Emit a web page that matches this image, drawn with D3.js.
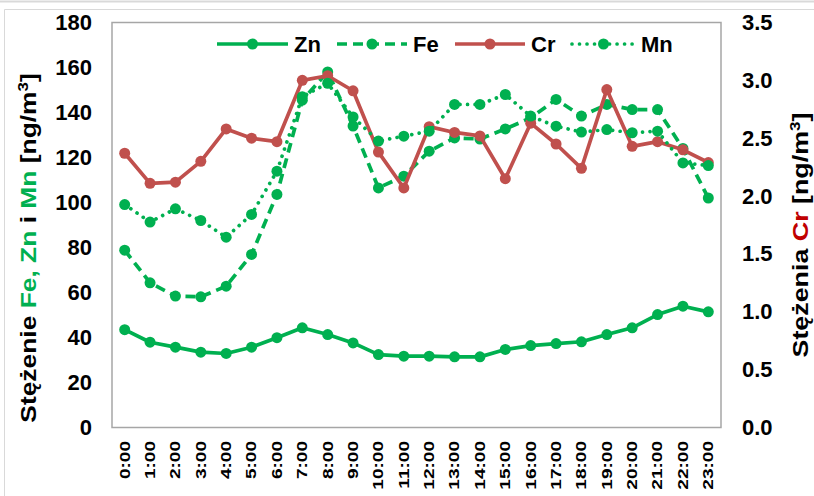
<!DOCTYPE html>
<html>
<head>
<meta charset="utf-8">
<script src="https://cdn.jsdelivr.net/npm/d3@7"></script>
<style>
  body { margin: 0; background: #fff; }
  svg { display: block; font-family: Arial, "Liberation Sans", sans-serif; }
</style>
</head>
<body>
<div id="chart"></div>
<script>
// hours of the day
const hours = ["0:00", "1:00", "2:00", "3:00", "4:00", "5:00", "6:00", "7:00", "8:00", "9:00", "10:00", "11:00",
    "12:00", "13:00", "14:00", "15:00", "16:00", "17:00", "18:00", "19:00", "20:00", "21:00", "22:00", "23:00"];

// left axis series [ng/m3]
const zn = [43.5, 37.9, 35.7, 33.5, 32.9, 35.7, 39.9, 44.3, 41.3, 37.6, 32.4, 31.7,
    31.7, 31.4, 31.4, 34.7, 36.4, 37.3, 38.1, 41.3, 44.3, 50.2, 53.9, 51.4];
const fe = [78.8, 64.3, 58.4, 58.1, 62.8, 76.9, 103.6, 145.5, 158, 134, 106.5, 111.7,
    122.8, 128.7, 128.2, 132.7, 137.6, 145.8, 138.4, 143.6, 141.3, 141.3, 124, 102];
const mn = [99.1, 91.3, 97.2, 92, 84.6, 94.7, 113.9, 147, 153, 138, 127.3, 129.5,
    131.7, 143.6, 143.6, 148, 138.4, 133.9, 131.3, 132.4, 131, 131.7, 117.6, 116.4];

// right axis series [ng/m3]
const cr = [2.37, 2.11, 2.12, 2.30, 2.58, 2.50, 2.47, 3.00, 3.04, 2.91, 2.38, 2.07,
    2.60, 2.55, 2.52, 2.15, 2.63, 2.45, 2.24, 2.92, 2.43, 2.47, 2.40, 2.29];

const leftTicks = [0, 20, 40, 60, 80, 100, 120, 140, 160, 180];
const rightTicks = [0, 0.5, 1, 1.5, 2, 2.5, 3, 3.5];

render();

function render() {
    const width = 814, height = 496;
    const green = "#00B050", red = "#C0504D";

    const svg = d3.select('#chart').append('svg')
        .attr('width', width)
        .attr('height', height);

    // outer chart frame
    svg.append('line').attr('x1', 0).attr('x2', width).attr('y1', 1.5).attr('y2', 1.5)
        .attr('stroke', '#d9d9d9').attr('stroke-width', 2);
    svg.append('path').attr('d', 'M4.5,496V9.5H814')
        .attr('fill', 'none').attr('stroke', '#d9d9d9').attr('stroke-width', 1);

    const plot = { left: 112, right: 721, top: 22.5, bottom: 427.5 };

    const x = d3.scaleBand().domain(hours).range([plot.left, plot.right]);
    const cx = d => x(d) + x.bandwidth() / 2;
    const yL = d3.scaleLinear().domain([0, 180]).range([plot.bottom, plot.top]);
    const yR = d3.scaleLinear().domain([0, 3.5]).range([plot.bottom, plot.top]);

    // plot area border
    svg.append('rect')
        .attr('x', plot.left).attr('y', plot.top)
        .attr('width', plot.right - plot.left).attr('height', plot.bottom - plot.top)
        .attr('fill', 'none').attr('stroke', '#a6a6a6').attr('stroke-width', 1.5);

    // axes
    const gl = svg.append('g').attr('transform', 'translate(92,0)')
        .call(d3.axisLeft(yL).tickValues(leftTicks).tickSize(0).tickPadding(0).tickFormat(d3.format('d')));
    const gr = svg.append('g').attr('transform', 'translate(742,0)')
        .call(d3.axisRight(yR).tickValues(rightTicks).tickSize(0).tickPadding(0).tickFormat(d3.format('.1f')));
    [gl, gr].forEach(g => {
        g.select('.domain').remove();
        g.selectAll('text')
            .attr('font-family', 'Arial, "Liberation Sans", sans-serif')
            .attr('font-size', 22).attr('font-weight', 'bold').attr('fill', '#000');
    });

    svg.append('g').selectAll('text')
        .data(hours)
        .join('text')
        .attr('transform', d => `translate(${cx(d)},441) rotate(-90) scale(1.36,1)`)
        .attr('dy', '0.35em')
        .attr('text-anchor', 'end')
        .attr('font-size', 14).attr('font-weight', 'bold')
        .text(d => d);

    // axis titles
    const lt = svg.append('text')
        .attr('transform', 'translate(28,248) rotate(-90) scale(1.2,1)')
        .attr('dy', '0.35em').attr('text-anchor', 'middle')
        .attr('font-size', 22).attr('font-weight', 'bold');
    lt.append('tspan').text('Stężenie ');
    lt.append('tspan').attr('fill', green).text('Fe, Zn');
    lt.append('tspan').text(' i ');
    lt.append('tspan').attr('fill', green).text('Mn');
    lt.append('tspan').text(' [ng/m');
    lt.append('tspan').attr('font-size', 14).attr('dy', '-0.55em').text('3');
    lt.append('tspan').attr('dy', '0.35em').text(']');

    const rt = svg.append('text')
        .attr('transform', 'translate(800,235) rotate(-90) scale(1.22,1)')
        .attr('dy', '0.35em').attr('text-anchor', 'middle')
        .attr('font-size', 22).attr('font-weight', 'bold');
    rt.append('tspan').text('Stężenia ');
    rt.append('tspan').attr('fill', '#C00000').text('Cr');
    rt.append('tspan').text(' [ng/m');
    rt.append('tspan').attr('font-size', 14).attr('dy', '-0.55em').text('3');
    rt.append('tspan').attr('dy', '0.35em').text(']');

    // series, in the order they are drawn
    const series = [
        { name: 'Zn', values: zn, y: yL, color: green, dash: null, cap: 'butt' },
        { name: 'Fe', values: fe, y: yL, color: green, dash: '10,6', cap: 'butt' },
        { name: 'Cr', values: cr, y: yR, color: red, dash: null, cap: 'butt' },
        { name: 'Mn', values: mn, y: yL, color: green, dash: '0.01,7.5', cap: 'round' }
    ];

    series.forEach(s => {
        const line = d3.line()
            .x((d, i) => cx(hours[i]))
            .y(d => s.y(d));
        const g = svg.append('g');
        g.append('path')
            .attr('d', line(s.values))
            .attr('fill', 'none')
            .attr('stroke', s.color)
            .attr('stroke-width', 3.7)
            .attr('stroke-linejoin', 'round')
            .attr('stroke-linecap', s.cap)
            .attr('stroke-dasharray', s.dash);
        g.selectAll('circle')
            .data(s.values)
            .join('circle')
            .attr('cx', (d, i) => cx(hours[i]))
            .attr('cy', d => s.y(d))
            .attr('r', 5.5)
            .attr('fill', s.color);
    });

    // legend
    const legendX = [217, 337, 455, 572];
    const legendLen = [71, 70, 70, 63];
    const legend = svg.append('g');
    series.forEach((s, i) => {
        const x0 = legendX[i], x1 = x0 + legendLen[i];
        legend.append('line')
            .attr('x1', x0).attr('x2', x1).attr('y1', 44).attr('y2', 44)
            .attr('stroke', s.color).attr('stroke-width', 3.7)
            .attr('stroke-linecap', s.cap)
            .attr('stroke-dasharray', s.dash);
        legend.append('circle')
            .attr('cx', (x0 + x1) / 2).attr('cy', 44).attr('r', 5.5)
            .attr('fill', s.color);
        legend.append('text')
            .attr('x', x1 + 6).attr('y', 52)
            .attr('font-size', 22).attr('font-weight', 'bold')
            .text(s.name);
    });
}
</script>
</body>
</html>
